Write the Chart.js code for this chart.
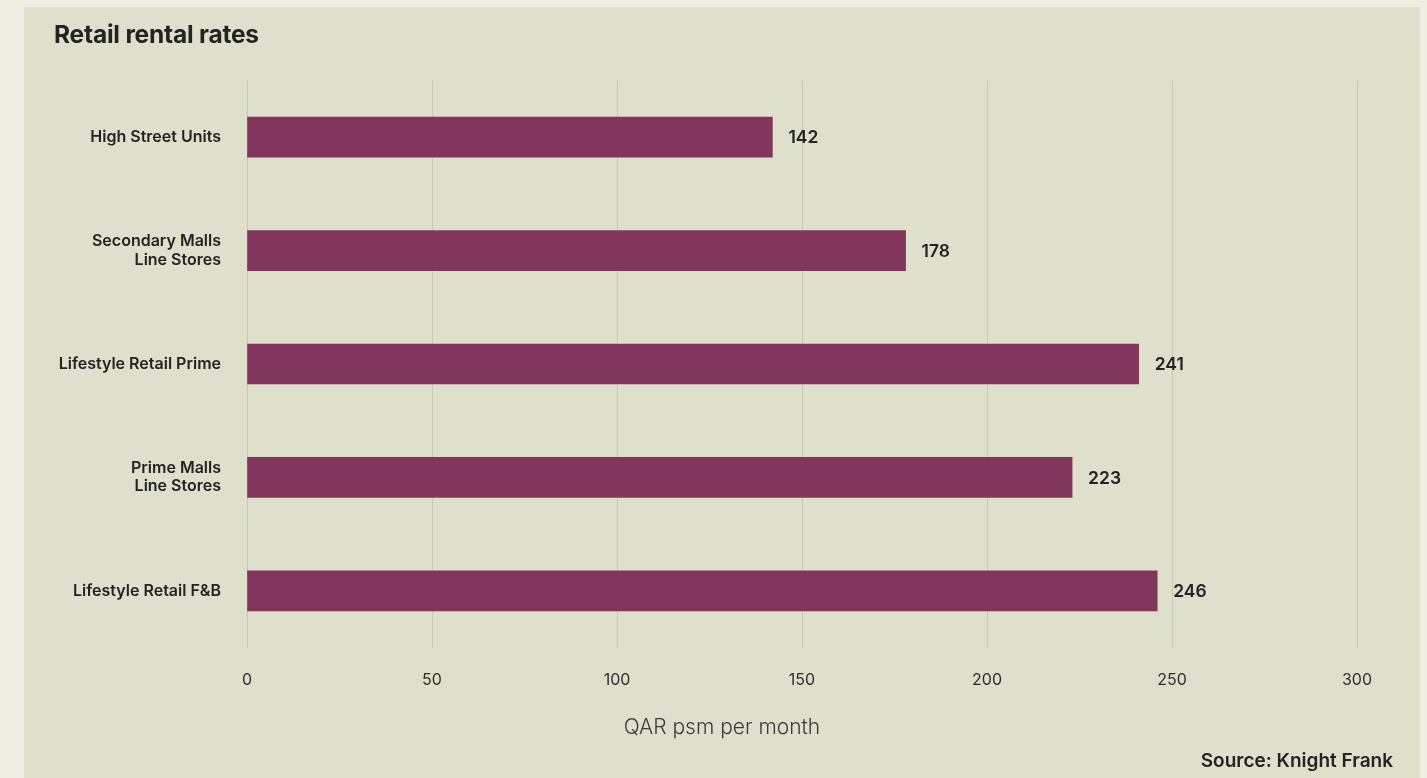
<!DOCTYPE html>
<html lang="en">
<head>
  <meta charset="UTF-8" />
  <title>Retail rental rates</title>
  <style>
    body {
      margin: 0; padding: 0; background: #eeeee2;
      font-family: Inter, Arial, sans-serif; color: #232323;
      width: 1427px; height: 778px; overflow: hidden; position: relative;
    }
    .panel {
      position: absolute; left: 24px; top: 7px;
      width: 1396px; height: 771px; background: #dee0cb;
    }
    h1 {
      position: absolute; left: 30px; top: 12px; margin: 0;
      font-size: 24.5px; font-weight: 700; letter-spacing: -0.2px;
    }
    .axis-title {
      position: absolute; left: 0; width: 100%; top: 707px; text-align: center;
      font-size: 21px; font-weight: 300; color: #3a3a3a;
    }
    .source {
      position: absolute; right: 27px; top: 742px;
      font-size: 19px; font-weight: 600;
    }
    canvas { position: absolute; left: 0; top: 0; }
  </style>
</head>
<body>
  <div class="panel">
    <canvas id="chart" width="1396" height="771"></canvas>
    <h1>Retail rental rates</h1>
    <div class="axis-title">QAR psm per month</div>
    <div class="source">Source: Knight Frank</div>
  </div>

  <script src="https://cdn.jsdelivr.net/npm/chart.js"></script>
  <script>
    // --- data ---
    const categories = [
      'High Street Units',
      ['Secondary Malls', 'Line Stores'],
      'Lifestyle Retail Prime',
      ['Prime Malls', 'Line Stores'],
      'Lifestyle Retail F&B'
    ];
    const rents = [142, 178, 241, 223, 246];
    const xTicks = [0, 50, 100, 150, 200, 250, 300];

    // value labels at the end of each bar
    const barValues = {
      id: 'barValues',
      afterDatasetsDraw(chart) {
        const ctx = chart.ctx;
        const meta = chart.getDatasetMeta(0);
        ctx.save();
        ctx.font = '600 17.5px Inter, Arial, sans-serif';
        ctx.fillStyle = '#232323';
        ctx.textAlign = 'left';
        ctx.textBaseline = 'middle';
        meta.data.forEach((bar, i) => {
          ctx.fillText(String(rents[i]), bar.x + 16, bar.y + 1);
        });
        ctx.restore();
      }
    };

    const ctx = document.getElementById('chart').getContext('2d');
    new Chart(ctx, {
      type: 'bar',
      data: {
        labels: categories,
        datasets: [{
          data: rents,
          backgroundColor: '#82365e',
          borderWidth: 0,
          barThickness: 40
        }]
      },
      options: {
        indexAxis: 'y',
        responsive: false,
        animation: false,
        layout: { padding: { left: 0, right: 63, top: 73.5, bottom: 39.6 } },
        scales: {
          x: {
            min: 0, max: 300,
            afterBuildTicks: (scale) => { scale.ticks = xTicks.map(v => ({ value: v })); },
            afterFit: (scale) => { scale.height = 90.9; },
            grid: { color: '#c6c8b3', lineWidth: 1, drawTicks: false },
            border: { display: false },
            ticks: {
              padding: 23,
              color: '#2e2e2e',
              font: { family: 'Inter, Arial, sans-serif', size: 16 }
            }
          },
          y: {
            afterFit: (scale) => { scale.width = 223; },
            grid: { display: false, drawTicks: false },
            border: { display: false },
            ticks: {
              padding: 26,
              color: '#232323',
              font: { family: 'Inter, Arial, sans-serif', size: 16, weight: 600, lineHeight: 1.15 }
            }
          }
        },
        plugins: {
          legend: { display: false },
          tooltip: { enabled: false }
        }
      },
      plugins: [barValues]
    });
  </script>
</body>
</html>
